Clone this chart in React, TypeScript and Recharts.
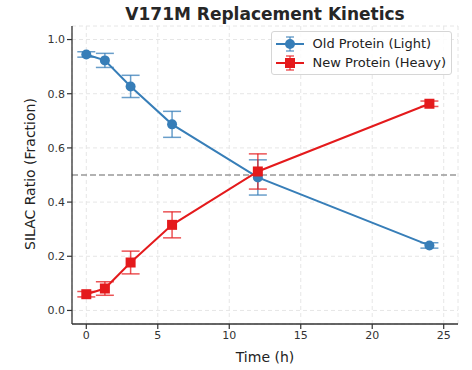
import React from 'react'
import {
  ComposedChart,
  Line,
  XAxis,
  YAxis,
  CartesianGrid,
  ReferenceLine,
  ErrorBar,
} from 'recharts'

const times = [0, 1.3, 3.1, 6, 12, 24]
const oldValues = [0.945, 0.923, 0.827, 0.687, 0.491, 0.24]
const oldErrors = [0.01, 0.026, 0.041, 0.048, 0.065, 0.01]
const newValues = [0.06, 0.081, 0.177, 0.316, 0.513, 0.763]
const newErrors = [0.01, 0.025, 0.042, 0.048, 0.065, 0.01]
const xTicks = [0, 5, 10, 15, 20, 25]
const yTicks = [0, 0.2, 0.4, 0.6, 0.8, 1.0]
const seriesNames = ['Old Protein (Light)', 'New Protein (Heavy)']

const BLUE = '#377eb8'
const RED = '#e41a1c'
const FONT = '"DejaVu Sans", Verdana, sans-serif'

const data = times.map((t, i) => ({
  t,
  old: oldValues[i],
  oldErr: oldErrors[i],
  neu: newValues[i],
  newErr: newErrors[i],
}))

const SquareDot = (props: any) => {
  const { cx, cy } = props
  if (cx == null || cy == null) return null
  return <rect x={cx - 5} y={cy - 5} width={10} height={10} fill={RED} />
}

const LegendIcon = ({ color, square }: { color: string; square?: boolean }) => (
  <svg width={28} height={18} style={{ display: 'block' }}>
    <line x1={0} y1={9} x2={28} y2={9} stroke={color} strokeWidth={2} />
    <line x1={14} y1={2} x2={14} y2={16} stroke={color} strokeOpacity={0.7} strokeWidth={1.5} />
    <line x1={10} y1={2} x2={18} y2={2} stroke={color} strokeOpacity={0.7} strokeWidth={1.5} />
    <line x1={10} y1={16} x2={18} y2={16} stroke={color} strokeOpacity={0.7} strokeWidth={1.5} />
    {square ? (
      <rect x={9} y={4} width={10} height={10} fill={color} />
    ) : (
      <circle cx={14} cy={9} r={5} fill={color} />
    )}
  </svg>
)

const tickStyle = { fontFamily: FONT, fontSize: 11, fill: '#333' }

export default function App() {
  return (
    <div style={{ position: 'absolute', left: 0, top: 0, width: 472, height: 370, background: '#fff' }}>
      <div
        style={{
          position: 'absolute',
          left: 72,
          width: 386,
          top: 4,
          textAlign: 'center',
          fontFamily: FONT,
          fontWeight: 'bold',
          fontSize: 17,
          color: '#262626',
        }}
      >
        V171M Replacement Kinetics
      </div>
      <ComposedChart
        width={472}
        height={370}
        data={data}
        margin={{ top: 26, right: 14, left: 0, bottom: 0 }}
      >
        <CartesianGrid stroke="#e6e6e6" strokeDasharray="4 3" />
        <XAxis
          dataKey="t"
          type="number"
          domain={[-1, 26]}
          ticks={xTicks}
          allowDataOverflow
          height={46}
          tick={tickStyle}
          tickSize={5}
          tickLine={{ stroke: '#333', strokeWidth: 1.2 }}
          axisLine={{ stroke: '#333', strokeWidth: 1.3 }}
          label={{ value: 'Time (h)', position: 'insideBottom', offset: 8, style: { fontFamily: FONT, fontSize: 14, fill: '#222' } }}
        />
        <XAxis
          xAxisId="top"
          dataKey="t"
          type="number"
          orientation="top"
          domain={[-1, 26]}
          allowDataOverflow
          height={0}
          tick={false}
          tickLine={false}
          axisLine={{ stroke: '#333', strokeWidth: 1.3 }}
        />
        <YAxis
          type="number"
          domain={[-0.05, 1.05]}
          ticks={yTicks}
          allowDataOverflow
          width={72}
          tick={tickStyle}
          tickSize={5}
          tickFormatter={(v: number) => v.toFixed(1)}
          tickLine={{ stroke: '#333', strokeWidth: 1.2 }}
          axisLine={{ stroke: '#333', strokeWidth: 1.3 }}
          label={{ value: 'SILAC Ratio (Fraction)', angle: -90, position: 'insideLeft', offset: 30, dy: 75, style: { fontFamily: FONT, fontSize: 14, fill: '#222' } }}
        />
        <YAxis
          yAxisId="right"
          orientation="right"
          type="number"
          domain={[-0.05, 1.05]}
          width={0}
          tick={false}
          tickLine={false}
          axisLine={{ stroke: '#333', strokeWidth: 1.3 }}
        />
        <ReferenceLine y={0.5} stroke="#999" strokeWidth={1.4} strokeDasharray="6 3" />
        <Line
          dataKey="old"
          name={seriesNames[0]}
          stroke={BLUE}
          strokeWidth={2}
          isAnimationActive={false}
          dot={{ r: 5, fill: BLUE, stroke: BLUE, strokeWidth: 0 }}
          activeDot={false}
        >
          <ErrorBar dataKey="oldErr" width={9} stroke={BLUE} strokeOpacity={0.75} strokeWidth={1.5} direction="y" />
        </Line>
        <Line
          dataKey="neu"
          name={seriesNames[1]}
          stroke={RED}
          strokeWidth={2}
          isAnimationActive={false}
          dot={<SquareDot />}
          activeDot={false}
        >
          <ErrorBar dataKey="newErr" width={9} stroke={RED} strokeOpacity={0.75} strokeWidth={1.5} direction="y" />
        </Line>
      </ComposedChart>
      <div
        style={{
          position: 'absolute',
          right: 20,
          top: 31,
          border: '1px solid #d6d6d6',
          borderRadius: 3,
          background: 'rgba(255,255,255,0.85)',
          padding: '2px 5px 2px 4px',
          fontFamily: FONT,
          fontSize: 13,
          color: '#222',
        }}
      >
        <div style={{ display: 'flex', alignItems: 'center', gap: 9, height: 19 }}>
          <LegendIcon color={BLUE} />
          <span>{seriesNames[0]}</span>
        </div>
        <div style={{ display: 'flex', alignItems: 'center', gap: 9, height: 19 }}>
          <LegendIcon color={RED} square />
          <span>{seriesNames[1]}</span>
        </div>
      </div>
    </div>
  )
}
